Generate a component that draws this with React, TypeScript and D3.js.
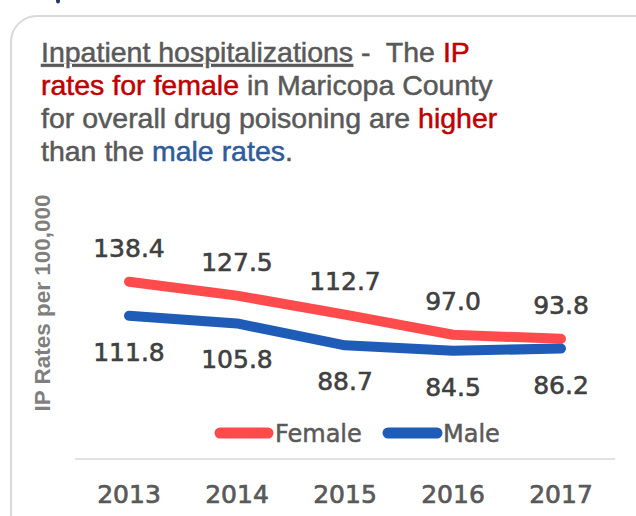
import React from 'react';
import * as d3 from 'd3';

const years = ['2013', '2014', '2015', '2016', '2017'];
const female = [138.4, 127.5, 112.7, 97.0, 93.8];
const male = [111.8, 105.8, 88.7, 84.5, 86.2];
const seriesNames = ['Female', 'Male'];
const seriesColors = ['#ff4b4b', '#1f5cb8'];

const width = 636;
const height = 516;

const App = () => {
  const x = d3.scaleBand().domain(years).range([75, 615]);
  const y = d3.scaleLinear().domain([0, 160]).range([459, 254]);
  const cx = (d: string) => (x(d) as number) + x.bandwidth() / 2;

  const line = d3
    .line<number>()
    .x((_, i) => cx(years[i]))
    .y(d => y(d));

  const gray = '#595959';
  const titleFont = '"Liberation Sans", Arial, sans-serif';
  const labelFont = '"DejaVu Sans", sans-serif';

  return (
    <svg
      width={width}
      height={height}
      style={{ position: 'absolute', left: 0, top: 0, background: '#fff' }}
    >
      {/* tail of the heading above the panel */}
      <ellipse cx={58} cy={1} rx={2} ry={2.5} fill="#1f3864" />

      {/* panel */}
      <rect x={11} y={16} width={680} height={560} rx={26} fill="none" stroke="#d9d9d9" strokeWidth={2} />

      {/* title */}
      <g fontFamily={titleFont} fontSize={28.5} fill={gray} stroke={gray} strokeWidth={0.5}>
        <text x={41} y={62}>
          <tspan textDecoration="underline">Inpatient hospitalizations</tspan>
          <tspan>{' -\u00a0 The '}</tspan>
          <tspan fill="#c00000" stroke="#c00000">IP</tspan>
        </text>
        <text x={41} y={95}>
          <tspan fill="#c00000" stroke="#c00000">rates for female</tspan>
          <tspan> in Maricopa County</tspan>
        </text>
        <text x={41} y={128}>
          <tspan>for overall drug poisoning are </tspan>
          <tspan fill="#c00000" stroke="#c00000">higher</tspan>
        </text>
        <text x={41} y={161}>
          <tspan>than the </tspan>
          <tspan fill="#2f5b9a" stroke="#2f5b9a">male rates</tspan>
          <tspan>.</tspan>
        </text>
      </g>

      {/* y axis title */}
      <text
        transform={`translate(50, 303) rotate(-90)`}
        textAnchor="middle"
        fontFamily={titleFont}
        fontWeight="bold"
        fontSize={22.5}
        fill="#7f7f7f"
      >
        IP Rates per 100,000
      </text>

      {/* x axis */}
      <line x1={75} x2={615} y1={y(0)} y2={y(0)} stroke="#d9d9d9" strokeWidth={1.5} />
      {years.map(d => (
        <text
          key={d}
          x={cx(d)}
          y={503}
          textAnchor="middle"
          fontFamily={labelFont}
          fontSize={25}
          fill={gray}
          stroke={gray}
          strokeWidth={0.7}
        >
          {d}
        </text>
      ))}

      {/* lines */}
      {[female, male].map((s, i) => (
        <path
          key={seriesNames[i]}
          d={line(s) || ''}
          fill="none"
          stroke={seriesColors[i]}
          strokeWidth={10}
          strokeLinecap="round"
          strokeLinejoin="round"
        />
      ))}

      {/* data labels */}
      <g fontFamily={labelFont} fontSize={25} fill="#404040" stroke="#404040" strokeWidth={0.6} textAnchor="middle">
        {female.map((v, i) => (
          <text key={'f' + i} x={cx(years[i])} y={y(v) - 25}>
            {v.toFixed(1)}
          </text>
        ))}
        {male.map((v, i) => (
          <text key={'m' + i} x={cx(years[i])} y={y(v) + 45}>
            {v.toFixed(1)}
          </text>
        ))}
      </g>

      {/* legend */}
      <g fontFamily={labelFont} fontSize={24} fill={gray} stroke={gray} strokeWidth={0.5}>
        <line x1={220} x2={268} y1={433} y2={433} stroke={seriesColors[0]} strokeWidth={11} strokeLinecap="round" />
        <text x={275} y={442}>{seriesNames[0]}</text>
        <line x1={388} x2={437} y1={433} y2={433} stroke={seriesColors[1]} strokeWidth={11} strokeLinecap="round" />
        <text x={443} y={442}>{seriesNames[1]}</text>
      </g>
    </svg>
  );
};

export default App;
